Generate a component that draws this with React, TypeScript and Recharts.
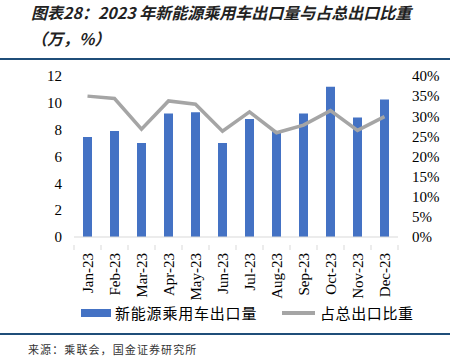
import { Bar, ComposedChart, Line, XAxis, YAxis } from 'recharts'

const months = ['Jan-23', 'Feb-23', 'Mar-23', 'Apr-23', 'May-23', 'Jun-23', 'Jul-23', 'Aug-23', 'Sep-23', 'Oct-23', 'Nov-23', 'Dec-23']
const exportVolume = [7.45, 7.9, 7.0, 9.2, 9.3, 7.0, 8.8, 7.9, 9.2, 11.2, 8.9, 10.25]
const exportShare = [35.0, 34.4, 26.8, 33.8, 33.0, 26.3, 31.1, 25.9, 27.8, 31.4, 26.5, 29.9]
const leftTicks = [0, 2, 4, 6, 8, 10, 12]
const rightTicks = [0, 5, 10, 15, 20, 25, 30, 35, 40]

const data = months.map((m, i) => ({ month: m, volume: exportVolume[i], share: exportShare[i] }))

const BLUE = '#4472c4'
const GRAY = '#a5a5a5'
const RULE = '#1f4e79'
const serif = '"Liberation Serif", "Times New Roman", serif'
const cjk = '"Noto Sans CJK SC", sans-serif'

function MonthTick(props: any) {
  const { x, y, payload, index } = props
  const half = payload?.offset ?? 13.5
  return (
    <g>
      <line x1={x - half} y1={y - 8} x2={x - half} y2={y - 3} stroke="#d9d9d9" />
      {index === months.length - 1 && (
        <line x1={x + half} y1={y - 8} x2={x + half} y2={y - 3} stroke="#d9d9d9" />
      )}
      <text
        x={x}
        y={y}
        transform={`rotate(-90, ${x}, ${y})`}
        textAnchor="end"
        dominantBaseline="central"
        fontFamily={serif}
        fontSize={15}
        fill="#000"
      >
        {payload.value}
      </text>
    </g>
  )
}

export default function App() {
  return (
    <div style={{ position: 'absolute', left: 0, top: 0, width: 454, height: 363, background: '#fff', overflow: 'hidden' }}>
      <div
        style={{
          position: 'absolute',
          left: 31,
          top: -1,
          fontFamily: cjk,
          fontStyle: 'italic',
          fontWeight: 700,
          fontSize: 16,
          lineHeight: '26px',
          color: '#222',
          whiteSpace: 'pre',
        }}
      >
        {'图表28：2023 年新能源乘用车出口量与占总出口比重\n（万，%）'}
      </div>
      <div style={{ position: 'absolute', left: 0, top: 58, width: 450, height: 2, background: RULE }} />

      <div style={{ position: 'absolute', left: 0, top: 0 }}>
        <ComposedChart width={454} height={330} data={data} margin={{ top: 76, right: 0, bottom: 0, left: 0 }}>
          <XAxis
            dataKey="month"
            xAxisId="x"
            interval={0}
            height={93}
            tickLine={false}
            axisLine={{ stroke: '#d9d9d9' }}
            tick={<MonthTick />}
            tickMargin={10}
          />
          <YAxis
            yAxisId="left"
            orientation="left"
            width={74}
            domain={[0, 12]}
            ticks={leftTicks}
            interval={0}
            axisLine={false}
            tickLine={false}
            tickSize={0}
            tickMargin={12}
            tick={{ fontFamily: serif, fontSize: 15, fill: '#000' }}
          />
          <YAxis
            yAxisId="right"
            orientation="right"
            width={56}
            domain={[0, 40]}
            ticks={rightTicks}
            interval={0}
            axisLine={false}
            tickLine={false}
            tickSize={0}
            tickMargin={14}
            tickFormatter={(v) => `${v}%`}
            tick={{ fontFamily: serif, fontSize: 15, fill: '#000', textAnchor: 'start' }}
          />
          <Bar dataKey="volume" xAxisId="x" yAxisId="left" fill={BLUE} barSize={9} isAnimationActive={false} />
          <Line
            dataKey="share"
            xAxisId="x"
            yAxisId="right"
            stroke={GRAY}
            strokeWidth={3.5}
            dot={false}
            type="linear"
            isAnimationActive={false}
          />
        </ComposedChart>
      </div>

      <div style={{ position: 'absolute', left: 81, top: 309, width: 30, height: 8, background: BLUE }} />
      <div style={{ position: 'absolute', left: 115, top: 302, fontFamily: cjk, fontSize: 15, lineHeight: '22px', letterSpacing: 0.8, color: '#000' }}>
        新能源乘用车出口量
      </div>
      <div style={{ position: 'absolute', left: 282, top: 311, width: 33, height: 3.5, background: GRAY }} />
      <div style={{ position: 'absolute', left: 320, top: 302, fontFamily: cjk, fontSize: 15, lineHeight: '22px', letterSpacing: 0.6, color: '#000' }}>
        占总出口比重
      </div>

      <div style={{ position: 'absolute', left: 0, top: 333, width: 450, height: 2, background: RULE }} />
      <div style={{ position: 'absolute', left: 28, top: 341, fontFamily: cjk, fontSize: 11, lineHeight: '16px', letterSpacing: 1.1, color: '#333' }}>
        来源：乘联会，国金证券研究所
      </div>
    </div>
  )
}
